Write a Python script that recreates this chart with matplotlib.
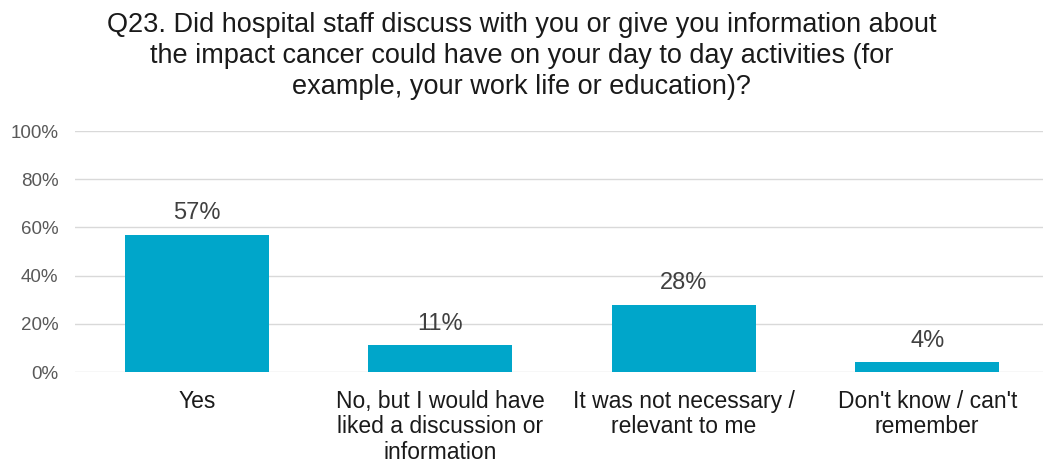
import matplotlib.pyplot as plt
import numpy as np

plt.rcParams['font.family'] = ['Liberation Sans', 'DejaVu Sans']

categories = ['Yes', 'No, but I would have\nliked a discussion or\ninformation',
              'It was not necessary /\nrelevant to me', "Don't know / can't\nremember"]
values = [57, 11, 28, 4]
yticks = [0, 20, 40, 60, 80, 100]

fig = plt.figure(figsize=(10.43, 4.65), dpi=100)
ax = fig.add_axes([75 / 1043, 93 / 465, 974 / 1043, 241 / 465])

x = np.arange(len(values))
ax.bar(x, values, width=0.59, color='#00A6CA', zorder=2)
for xi, v in zip(x, values):
    ax.text(xi, v + 4.5, '%d%%' % v, ha='center', va='bottom', fontsize=17, color='#404040')

ax.set_xlim(-0.5, len(values) - 0.5)
ax.set_ylim(0, 100)
ax.set_yticks(yticks)
ax.set_yticklabels(['%d%%' % t for t in yticks], fontsize=13.5, color='#595959')
ax.set_xticks(x)
ax.set_xticklabels(categories, fontsize=16.5, color='#1a1a1a', linespacing=1.13)
ax.tick_params(axis='both', length=0)
ax.tick_params(axis='y', pad=12)
ax.tick_params(axis='x', pad=13)
ax.grid(axis='y', color='#d9d9d9', linewidth=1, zorder=0)
for s in ax.spines.values():
    s.set_visible(False)

fig.text(0.5, 0.975, 'Q23. Did hospital staff discuss with you or give you information about\n'
         'the impact cancer could have on your day to day activities (for\n'
         'example, your work life or education)?',
         ha='center', va='top', fontsize=19.5, color='#1a1a1a', linespacing=1.25)

fig.savefig('out.png')
